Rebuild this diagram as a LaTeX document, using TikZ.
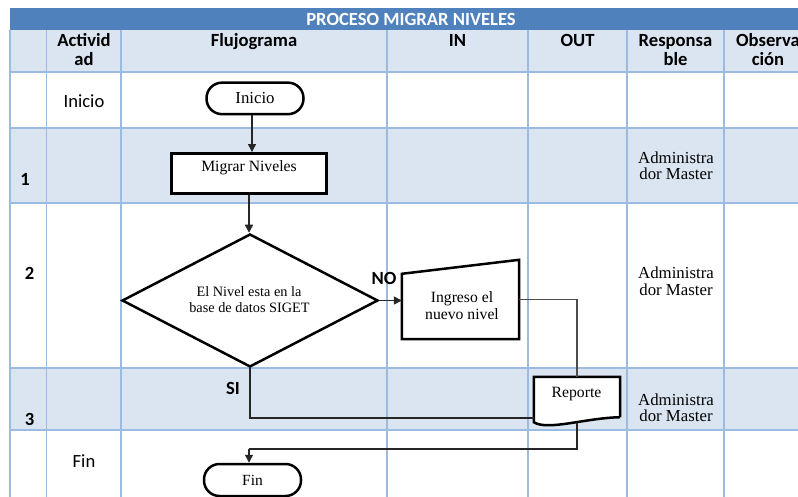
\documentclass[tikz,border=0pt]{standalone}
\usepackage{fontspec}
\setmainfont{Liberation Serif}
\newfontfamily\calib{Carlito}
\usetikzlibrary{shapes.geometric,arrows.meta,calc}
\definecolor{titlec}{HTML}{4F81BD}
\definecolor{lightc}{HTML}{DBE5F1}
\definecolor{gridc}{HTML}{9BBBE0}
\tikzset{
  hdr/.style={font=\calib\bfseries\fontsize{18.6}{19.5}\selectfont, anchor=base, inner sep=0pt},
  body/.style={font=\calib\fontsize{18.6}{20}\selectfont, anchor=base, inner sep=0pt},
  ser/.style={font=\fontsize{15.7}{17}\selectfont, anchor=base, inner sep=0pt},
  sersmall/.style={font=\fontsize{14.3}{16}\selectfont, anchor=base, inner sep=0pt},
  serresp/.style={font=\fontsize{16.8}{17}\selectfont, anchor=base, inner sep=0pt},
  gridline/.style={draw=gridc, line width=1.4pt},
  fshape/.style={draw=black, line width=2.5pt, fill=white, inner sep=0pt},
  term/.style={fshape, rounded corners=15.5pt, minimum width=97pt},
  conn/.style={draw=black!85, line width=1.3pt},
  thinconn/.style={draw=black!70, line width=1.1pt},
  arr/.style={conn, -{Triangle[length=8pt,width=8pt]}},
}
\begin{document}
\begin{tikzpicture}[x=1pt,y=-1pt]
\useasboundingbox (0,0) rectangle (798,497);
% fills
\fill[white] (0,0) rectangle (798,497);
\fill[titlec] (10,8) rectangle (798,30);
\fill[lightc] (10,30) rectangle (798,72);
\fill[lightc] (10,128) rectangle (798,203);
\fill[lightc] (10,368) rectangle (798,430);
% grid
\foreach \y in {72,128,203,368,430} \draw[gridline] (10,\y) -- (798,\y);
\foreach \x in {10,46.5,121,387,528,627,724} \draw[gridline] (\x,30) -- (\x,497);
% title and headers
\node[hdr, text=white] (title) at (411,25.5) {PROCESO MIGRAR NIVELES};
\node[hdr] (hact1) at (84,46.5) {Activid};
\node[hdr] (hact2) at (84,66) {ad};
\node[hdr] (hflu) at (254,46.5) {Flujograma};
\node[hdr] (hin) at (457.5,46.5) {IN};
\node[hdr] (hout) at (577.5,46.5) {OUT};
\node[hdr] (hres1) at (675.5,46.5) {Responsa};
\node[hdr] (hres2) at (675.5,66) {ble};
\node[hdr] (hobs1) at (768,46.5) {Observa};
\node[hdr] (hobs2) at (768,66) {ción};
% first columns
\node[body] (ainicio) at (84,108) {Inicio};
\node[body] (afin) at (84,467) {Fin};
\node[hdr] (n1) at (25,185.5) {1};
\node[hdr] (n2) at (29.5,279.3) {2};
\node[hdr] (n3) at (29.5,425) {3};
% responsables
\node[serresp] (r1a) at (676,163.5) {Administra};
\node[serresp] (r1b) at (676,180) {dor Master};
\node[serresp] (r2a) at (676,278) {Administra};
\node[serresp] (r2b) at (676,295) {dor Master};
\node[serresp] (r3a) at (676,405) {Administra};
\node[serresp] (r3b) at (676,421.7) {dor Master};
% flow shapes
\node[term, minimum height=31.5pt] (ini) at (255,98.4) {};
\node[ser, font=\fontsize{16.8}{18}\selectfont] (initxt) at (255,104) {Inicio};
\node[fshape, rectangle, minimum width=155pt, minimum height=40pt] (mig) at (249,173.3) {};
\node[ser] (migtxt) at (249,171.5) {Migrar Niveles};
\node[fshape, diamond, minimum width=256pt, minimum height=133pt] (dia) at (250,300.5) {};
\node[sersmall] (dia1) at (249,296.5) {El Nivel esta en la};
\node[sersmall] (dia2) at (249.5,312.3) {base de datos SIGET};
\node[inner sep=0pt, minimum width=117pt, minimum height=79pt] (inp) at (460.5,299.5) {};
\draw[fshape] (inp.south west) -- (inp.south east) -- (inp.north east) -- ($(inp.north west)+(0,14)$) -- cycle;
\node[ser] (inp1) at (462,302) {Ingreso el};
\node[ser] (inp2) at (462,319) {nuevo nivel};
\node[inner sep=0pt, minimum width=86pt, minimum height=40pt] (rep) at (577,397) {};
\draw[fshape] (rep.south east) -- (rep.north east) -- (rep.north west) -- ($(rep.south west)+(0,5)$) .. controls (548,431) and (585,418) .. (rep.south east);
\node[ser] (reptxt) at (576.5,397) {Reporte};
\node[term, minimum height=32pt] (fin) at (252.5,480) {};
\node[ser, font=\fontsize{15.5}{17}\selectfont] (fintxt) at (252.5,485.5) {Fin};
% labels
\node[hdr] (lno) at (384,284) {NO};
\node[hdr] (lsi) at (233,394) {SI};
% connectors
\coordinate (inis) at ($(ini.south)+(-3,0)$);
\draw[arr] (inis) -- (inis |- mig.north);
\draw[arr] (mig.south) -- (mig.south |- dia.north);
\draw[arr] (dia.east) -- (dia.east -| inp.west);
\draw[thinconn] (inp.east) -| (rep.north);
\coordinate (repl) at (534,418);
\draw[conn] (dia.south) |- (repl);
\coordinate (repb) at (577,422.5);
\coordinate (finin) at (249,449);
\draw[conn] (repb) |- (finin);
\draw[arr] (finin) -- (finin |- fin.north);
\end{tikzpicture}
\end{document}
